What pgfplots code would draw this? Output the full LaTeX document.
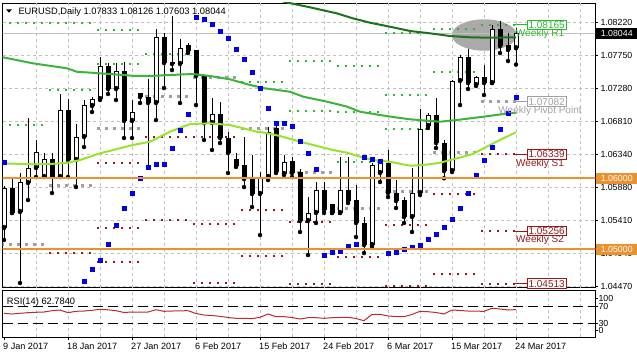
\documentclass[border=0pt]{standalone}
\usepackage{fontspec}
\setmainfont{Liberation Sans}
\usepackage{pgfplots}
\usepackage{pgfplotstable}
\pgfplotsset{compat=1.18}
\definecolor{gridc}{RGB}{192,192,192}
\definecolor{maA}{RGB}{28,115,28}
\definecolor{maB}{RGB}{60,180,60}
\definecolor{maC}{RGB}{150,228,45}
\definecolor{sarc}{RGB}{0,0,235}
\definecolor{pivc}{RGB}{160,160,160}
\definecolor{resc}{RGB}{45,185,45}
\definecolor{supc}{RGB}{150,25,25}
\definecolor{orng}{RGB}{235,145,45}
\definecolor{rsic}{RGB}{185,45,45}
\definecolor{ellc}{RGB}{170,170,170}
\definecolor{pricec}{RGB}{192,192,192}
\newcommand{\tf}{\fontsize{8.8pt}{10pt}\selectfont}
\newcommand{\df}{\fontsize{9.1pt}{10pt}\selectfont}
\newcommand{\hf}{\fontsize{9.3pt}{10pt}\selectfont}
\newcommand{\lf}{\fontsize{10pt}{11pt}\selectfont}

\pgfplotstableread{
i o h l c
0 1.05297 1.05890 1.05128 1.05861
1 1.05861 1.06017 1.05509 1.05509
2 1.05523 1.06073 1.04521 1.05946
3 1.05932 1.06849 1.05692 1.06144
4 1.06144 1.06539 1.06017 1.06369
5 1.06017 1.06355 1.06017 1.06271
6 1.06271 1.06355 1.05791 1.06017
7 1.06017 1.07188 1.06017 1.06962
8 1.06962 1.07117 1.06017 1.06256
9 1.06256 1.06764 1.05875 1.06581
10 1.06581 1.07103 1.06440 1.07032
11 1.07018 1.07145 1.06934 1.07117
12 1.07117 1.07710 1.07103 1.07583
13 1.07583 1.07625 1.07188 1.07258
14 1.07258 1.07625 1.07103 1.07512
15 1.07512 1.07639 1.06567 1.06807
16 1.06807 1.07103 1.06567 1.06934
17 1.07202 1.07202 1.07061 1.07145
18 1.07145 1.07399 1.06158 1.07061
19 1.07061 1.08105 1.06821 1.07992
20 1.07992 1.08048 1.07272 1.07625
21 1.07639 1.08290 1.07526 1.07611
22 1.07611 1.07964 1.07061 1.07837
23 1.07879 1.07907 1.07766 1.07794
24 1.07809 1.07809 1.07032 1.07442
25 1.07442 1.07442 1.06539 1.06778
26 1.06778 1.07131 1.06398 1.06905
27 1.06905 1.07075 1.06496 1.06567
28 1.06567 1.06652 1.06073 1.06355
29 1.06271 1.06355 1.06158 1.06172
30 1.06186 1.06581 1.05875 1.05988
31 1.05988 1.06327 1.05593 1.05777
32 1.05777 1.06087 1.05198 1.06017
33 1.06017 1.06722 1.05974 1.06652
34 1.06708 1.06750 1.06073 1.06087
35 1.06059 1.06327 1.06045 1.06228
36 1.06242 1.06299 1.06017 1.06073
37 1.06087 1.06129 1.05241 1.05396
38 1.05396 1.05734 1.04916 1.05509
39 1.05509 1.05946 1.05368 1.05833
40 1.05833 1.05946 1.05509 1.05551
41 1.05636 1.05636 1.05509 1.05509
42 1.05509 1.06299 1.05509 1.05833
43 1.05833 1.06299 1.05650 1.05678
44 1.05692 1.05904 1.05170 1.05368
45 1.05368 1.05452 1.04944 1.05057
46 1.05057 1.06214 1.05029 1.06186
47 1.06073 1.06256 1.05946 1.06214
48 1.06214 1.06398 1.05734 1.05791
49 1.05791 1.05974 1.05579 1.05678
50 1.05692 1.05734 1.05368 1.05452
51 1.05452 1.06144 1.05241 1.05791
52 1.05791 1.06976 1.05763 1.06694
53 1.06736 1.06920 1.06708 1.06891
54 1.06891 1.07131 1.06426 1.06496
55 1.06496 1.06539 1.05999 1.06101
56 1.06101 1.07385 1.06087 1.07371
57 1.07371 1.07738 1.07032 1.07710
58 1.07710 1.07825 1.07258 1.07343
59 1.07315 1.07442 1.07301 1.07422
60 1.07422 1.07597 1.07174 1.07343
61 1.07343 1.08161 1.07343 1.08105
62 1.08105 1.08218 1.07766 1.07865
63 1.07879 1.08048 1.07653 1.07809
64 1.07833 1.08126 1.07603 1.08044
}\candles

\pgfplotstableread{
x y
34.0 1.08520
35.5 1.08476
38.25 1.08411
41.6 1.08326
43.6 1.08256
45.75 1.08194
48.25 1.08137
50.75 1.08077
53.25 1.08044
55.75 1.08006
58.25 1.07988
60.75 1.07982
64.0 1.07988
}\maslow

\pgfplotstableread{
x y
-0.5 1.07714
3.6 1.07621
7.9 1.07550
9.1 1.07502
12 1.07480
14.9 1.07456
16.4 1.07442
18.25 1.07442
20.75 1.07456
23.6 1.07470
25.75 1.07442
28.25 1.07395
30.75 1.07315
32.6 1.07268
35.75 1.07220
37.4 1.07150
40.4 1.07079
42.9 1.07009
44.5 1.06938
47 1.06891
48.9 1.06859
50.75 1.06831
54.5 1.06797
56.6 1.06821
59.9 1.06867
62.4 1.06905
64.0 1.06924
}\mamid

\pgfplotstableread{
x y
-0.3 1.06210
3.6 1.06196
5.75 1.06200
7.9 1.06218
9.5 1.06256
12 1.06351
16.1 1.06468
18.25 1.06515
20.75 1.06656
23.25 1.06764
25.75 1.06774
28.25 1.06750
29.9 1.06704
31.6 1.06656
32.6 1.06642
34.5 1.06595
37 1.06515
39.5 1.06444
41.1 1.06398
42.9 1.06359
44.5 1.06303
46.1 1.06256
48.25 1.06232
50.75 1.06176
52.4 1.06186
54.5 1.06218
56.6 1.06280
58.6 1.06341
60.75 1.06468
62.4 1.06563
64.0 1.06647
}\mafast

\pgfplotstableread{
i s
0 1.06224
10 1.04553
11 1.04714
12 1.04850
13 1.05075
14 1.05339
15 1.05583
16 1.05795
17 1.05998
18 1.06162
19 1.06196
20 1.06196
21 1.06422
22 1.06675
23 1.06901
24 1.08270
25 1.08242
26 1.08171
27 1.08067
28 1.07974
29 1.07818
30 1.07677
31 1.07494
32 1.07268
33 1.06986
34 1.06774
35 1.06774
36 1.06740
37 1.06529
38 1.06351
39 1.06120
40 1.04920
41 1.04951
42 1.04968
43 1.05039
44 1.05075
45 1.06295
46 1.06268
47 1.06242
48 1.04940
49 1.04958
50 1.04996
51 1.05029
52 1.05053
53 1.05138
54 1.05208
55 1.05315
56 1.05428
57 1.05583
58 1.05795
59 1.06045
60 1.06247
61 1.06436
62 1.06690
63 1.06924
64 1.07141
}\sar

\pgfplotstableread{
x y
-0.375 1.08185
4.875 1.08185
nan nan
-0.375 1.06750
4.875 1.06750
nan nan
5.625 1.08185
10.875 1.08185
nan nan
5.625 1.07244
10.875 1.07244
nan nan
11.625 1.08091
16.875 1.08091
nan nan
11.625 1.07607
16.875 1.07607
nan nan
17.625 1.07748
22.875 1.07748
nan nan
29.625 1.07354
34.875 1.07354
nan nan
35.625 1.07653
40.875 1.07653
nan nan
35.625 1.06952
40.875 1.06952
nan nan
41.625 1.07583
46.875 1.07583
nan nan
41.625 1.06929
46.875 1.06929
nan nan
41.625 1.06232
46.875 1.06232
nan nan
47.625 1.08048
52.875 1.08048
nan nan
47.625 1.07174
52.875 1.07174
nan nan
47.625 1.06690
52.875 1.06690
nan nan
53.625 1.08101
58.875 1.08101
nan nan
53.625 1.07502
58.875 1.07502
nan nan
59.625 1.08165
63.875 1.08165
}\rlev

\pgfplotstableread{
x y
5.625 1.04940
10.875 1.04940
nan nan
11.625 1.06218
16.875 1.06218
nan nan
11.625 1.05297
16.875 1.05297
nan nan
11.625 1.04821
16.875 1.04821
nan nan
17.625 1.06577
22.875 1.06577
nan nan
17.625 1.05998
22.875 1.05998
nan nan
17.625 1.05410
22.875 1.05410
nan nan
23.625 1.06585
28.875 1.06585
nan nan
23.625 1.05353
28.875 1.05353
nan nan
23.625 1.04517
28.875 1.04517
nan nan
29.625 1.05551
34.875 1.05551
nan nan
29.625 1.04902
34.875 1.04902
nan nan
35.625 1.05386
40.875 1.05386
nan nan
35.625 1.04510
40.875 1.04510
nan nan
41.625 1.04885
46.875 1.04885
nan nan
47.625 1.05339
52.875 1.05339
nan nan
47.625 1.04473
52.875 1.04473
nan nan
53.625 1.05770
58.875 1.05770
nan nan
53.625 1.04655
58.875 1.04655
nan nan
59.625 1.06339
63.875 1.06339
nan nan
59.625 1.05256
63.875 1.05256
nan nan
59.625 1.04513
63.875 1.04513
}\slev

\pgfplotstableread{
x y
-0.4375 1.05067
4.9375 1.05067
nan nan
5.5625 1.05890
10.9375 1.05890
nan nan
11.5625 1.06698
16.9375 1.06698
nan nan
17.5625 1.07159
22.9375 1.07159
nan nan
23.5625 1.07423
28.9375 1.07423
nan nan
29.5625 1.06708
34.9375 1.06708
nan nan
35.5625 1.06083
40.9375 1.06083
nan nan
41.5625 1.05575
46.9375 1.05575
nan nan
47.5625 1.05819
52.9375 1.05819
nan nan
53.5625 1.06365
58.9375 1.06365
nan nan
59.5625 1.07082
63.9375 1.07082
}\plev

\pgfplotstableread{
i r
0 53.8
1 52.1
2 53.8
3 55.3
4 56.3
5 57.0
6 60.2
7 61.9
8 55.3
9 58.7
10 59.4
11 61.2
12 63.6
13 62.4
14 60.2
15 55.8
16 57.0
17 57.0
18 57.0
19 62.6
20 58.7
21 59.4
22 59.9
23 60.2
24 53.3
25 49.6
26 48.4
27 46.4
28 43.5
29 41.5
30 41.5
31 40.6
32 44.0
33 52.1
34 45.5
35 45.5
36 43.5
37 39.8
38 43.0
39 43.0
40 41.5
41 43.0
42 43.5
43 44.0
44 41.0
45 35.6
46 51.3
47 51.3
48 47.2
49 45.9
50 45.5
51 50.9
52 58.7
53 57.7
54 55.8
55 52.1
56 61.9
57 60.7
58 59.4
59 59.0
60 58.7
61 66.1
62 64.4
63 61.9
64 62.784
}\rsi

\begin{document}
\begin{tikzpicture}[
  lbox/.style={anchor=west, fill=white, font=\lf, inner xsep=1.2pt, inner ysep=1.2pt, line width=0.7pt, text height=7.2pt, text depth=0pt},
  wtxt/.style={anchor=base, font=\lf, inner sep=0pt, yshift=-12pt},
  pbox/.style={anchor=west, text=white, font=\tf, inner sep=0pt, minimum width=41.5pt, minimum height=11pt, xshift=0.5pt}
]
\path[use as bounding box] (0pt,0pt) rectangle (637pt,358pt);
\begin{axis}[
  at={(2.7pt,70.3pt)}, anchor=south west, scale only axis,
  width=592.6pt, height=284.7pt,
  xmin=-0.1625, xmax=73.91, ymin=1.04455, ymax=1.08472,
  clip mode=individual, unbounded coords=jump,
  axis line style={black, line width=0.8pt},
  xtick=\empty,
  extra x ticks={4,8,...,72}, extra x tick labels={},
  extra x tick style={grid=major, major tick length=0pt},
  ytick={1.04479,1.04940,1.05410,1.05875,1.06341,1.06797,1.07268,1.07738,1.08194},
  yticklabels={1.04470,1.04940,1.05410,1.05880,1.06340,1.06810,1.07280,1.07750,1.08220},
  ytick pos=right, yticklabel pos=right, ymajorgrids,
  tick align=outside, major tick length=2.5pt,
  tick style={black, line width=0.6pt},
  yticklabel style={font=\tf, anchor=west, inner sep=0pt, xshift=2.5pt},
  grid style={gridc, line width=0.7pt, dash pattern=on 3pt off 3pt},
]
\fill[ellc] (axis cs:60.03,1.0802) ellipse [x radius=32.5pt, y radius=15.7pt];
\addplot[pricec, line width=0.8pt, forget plot] coordinates {(-1,1.08044) (75,1.08044)};
% weekly pivot levels
\addplot[pivc, line width=3pt, dash pattern=on 3pt off 5pt] table[x=x,y=y] {\plev};
\addplot[resc, line width=2pt, dash pattern=on 2pt off 6pt] table[x=x,y=y] {\rlev};
\addplot[supc, line width=2pt, dash pattern=on 2pt off 6pt] table[x=x,y=y] {\slev};
% candles: wicks
\addplot[only marks, mark=none, error bars/.cd, y dir=plus, y explicit, error mark=none,
  error bar style={draw=black, line width=1pt, solid}]
  table[x=i, y=l, y error expr=\thisrow{h}-\thisrow{l}] {\candles};
% candle bodies (outline / black)
\addplot[only marks, mark=none, error bars/.cd, y dir=plus, y explicit, error mark=none,
  error bar style={draw=black, line width=5pt, solid}]
  table[x=i, y expr={min(\thisrow{o},\thisrow{c})}, y error expr={max(abs(\thisrow{c}-\thisrow{o}),0.00015)}] {\candles};
% white interiors of bullish candles
\addplot[only marks, mark=none, restrict expr to domain={\thisrow{c}-\thisrow{o}}{0.0003:1},
  error bars/.cd, y dir=plus, y explicit, error mark=none,
  error bar style={draw=white, line width=3pt, solid}]
  table[x=i, y expr={\thisrow{o}+0.000141}, y error expr={\thisrow{c}-\thisrow{o}-0.000282}] {\candles};
% moving averages
\addplot[maA, line width=2pt] table[x=x,y=y] {\maslow};
\addplot[maB, line width=2pt] table[x=x,y=y] {\mamid};
\addplot[maC, line width=2pt] table[x=x,y=y] {\mafast};
% parabolic SAR
\addplot[only marks, mark=square*, mark size=2pt, mark options={draw=sarc, fill=sarc}] table[x=i,y=s] {\sar};
% round-number lines
\addplot[orng, line width=2pt] coordinates {(-1,1.06) (75,1.06)};
\addplot[orng, line width=2pt] coordinates {(-1,1.05) (75,1.05)};
% labels of the current week's pivot levels
\draw[resc, line width=0.8pt] (axis cs:63.875,1.08165) -- (axis cs:65.375,1.08165);
\draw[pivc, line width=0.8pt] (axis cs:63.9375,1.07082) -- (axis cs:65.375,1.07082);
\draw[supc, line width=0.8pt] (axis cs:63.875,1.06339) -- (axis cs:65.375,1.06339);
\draw[supc, line width=0.8pt] (axis cs:63.875,1.05256) -- (axis cs:65.375,1.05256);
\draw[supc, line width=0.8pt] (axis cs:63.875,1.04513) -- (axis cs:65.375,1.04513);
\node[lbox, draw=resc, text=resc] at (axis cs:65.375,1.08165) {1.08165};
\node[lbox, draw=pivc, text=pivc] at (axis cs:65.375,1.07082) {1.07082};
\node[lbox, draw=supc, text=supc] at (axis cs:65.375,1.06339) {1.06339};
\node[lbox, draw=supc, text=supc] at (axis cs:65.375,1.05256) {1.05256};
\node[lbox, draw=supc, text=supc] at (axis cs:65.375,1.04513) {1.04513};
\node[wtxt, text=resc] at (axis cs:67,1.08165) {Weekly R1};
\node[wtxt, text=pivc] at (axis cs:67,1.07082) {Weekly Pivot Point};
\node[wtxt, text=supc] at (axis cs:67,1.06339) {Weekly S1};
\node[wtxt, text=supc] at (axis cs:67,1.05256) {Weekly S2};
\coordinate (pA) at (axis cs:73.91,1.08044);
\coordinate (pB) at (axis cs:73.91,1.06);
\coordinate (pC) at (axis cs:73.91,1.05);
\end{axis}

\begin{axis}[
  at={(2.7pt,20.7pt)}, anchor=south west, scale only axis,
  width=592.6pt, height=46.6pt,
  xmin=-0.1625, xmax=73.91, ymin=-5.1, ymax=109.3,
  clip mode=individual,
  axis line style={black, line width=0.8pt},
  tick align=outside, major tick length=2.5pt,
  tick style={black, line width=0.6pt},
  xtick={0,8,...,64},
  xticklabels={9 Jan 2017,18 Jan 2017,27 Jan 2017,6 Feb 2017,15 Feb 2017,24 Feb 2017,6 Mar 2017,15 Mar 2017,24 Mar 2017},
  xtick pos=bottom,
  xticklabel style={font=\df, anchor=north west, inner sep=0pt, xshift=-1pt, yshift=-3pt},
  extra x ticks={4,8,...,72}, extra x tick labels={},
  extra x tick style={grid=major, major tick length=0pt},
  ytick={12.8,30,70,91.3}, yticklabels={0,30,70,100},
  ytick pos=right, yticklabel pos=right,
  yticklabel style={font=\tf, anchor=west, inner sep=0pt, xshift=0.5pt},
  grid style={gridc, line width=0.7pt, dash pattern=on 3pt off 3pt},
]
\addplot[black, line width=0.7pt, dash pattern=on 10pt off 5pt] coordinates {(-0.1625,70) (73.91,70)};
\addplot[black, line width=0.7pt, dash pattern=on 10pt off 5pt] coordinates {(-0.1625,30) (73.91,30)};
\addplot[rsic, line width=1pt] table[x=i,y=r] {\rsi};
\end{axis}

\node[pbox, fill=black] at (pA) {1.08044};
\node[pbox, fill=orng] at (pB) {1.06000};
\node[pbox, fill=orng] at (pC) {1.05000};
\fill (6pt,348.7pt) -- (12pt,348.7pt) -- (9pt,345.3pt) -- cycle;
\node[anchor=base west, inner sep=0pt, font=\hf] at (18.3pt,343.8pt) {EURUSD,Daily 1.07833 1.08126 1.07603 1.08044};
\node[anchor=base west, inner sep=0pt, font=\hf] at (6.7pt,53.8pt) {RSI(14) 62.7840};
\end{tikzpicture}
\end{document}
